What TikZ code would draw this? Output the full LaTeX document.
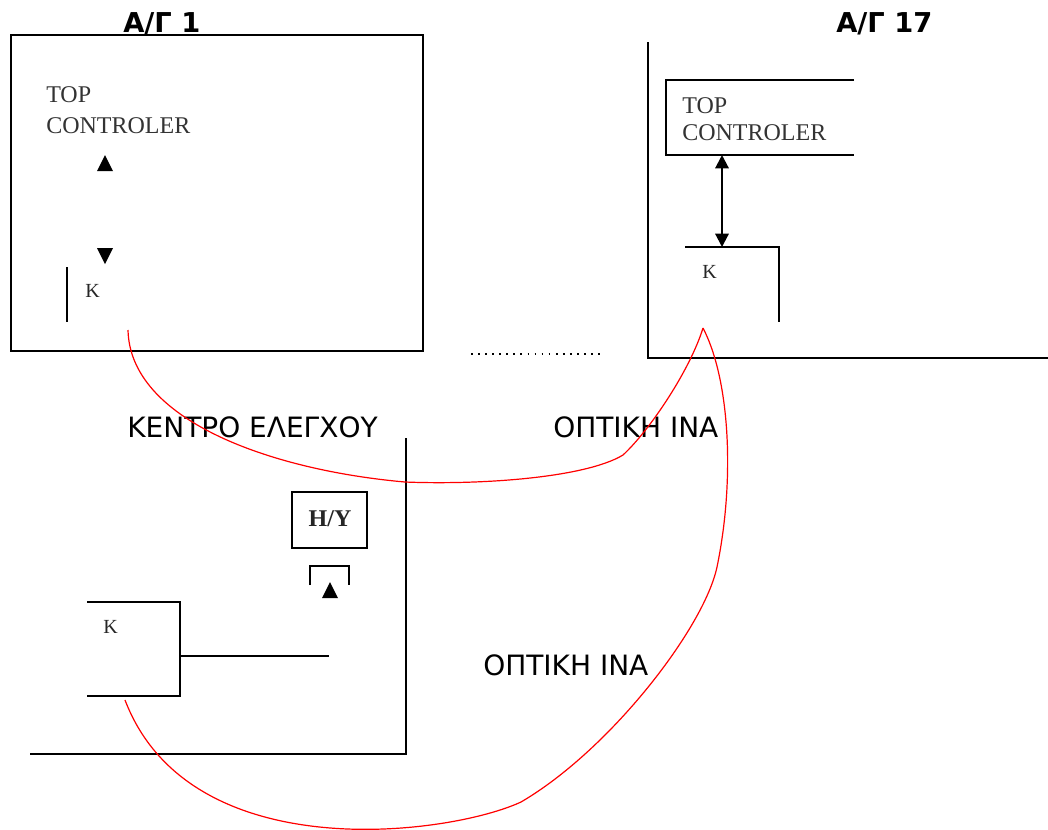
\documentclass[tikz,border=0pt]{standalone}
\usepackage{fontspec}
\setmainfont{Liberation Serif}
\newfontfamily\grfont{DejaVu Sans}
\usetikzlibrary{arrows.meta}
\tikzset{
  frameln/.style={line width=1.6pt},
  fiberln/.style={line width=0.9pt, red, line join=round},
  dotln/.style={line width=1.3pt, dash pattern=on 1.3pt off 4pt},
  linkln/.style={{Triangle[length=10pt,width=10pt]}-{Triangle[length=10pt,width=10pt]}, line width=1.6pt},
  titletxt/.style={font=\grfont\bfseries\fontsize{20.5}{24}\selectfont, anchor=base west, inner sep=0pt},
  grtxt/.style={font=\grfont\fontsize{21}{24}\selectfont, anchor=base west, inner sep=0pt},
  sertxt/.style={font=\fontsize{18}{20}\selectfont, text=black!80, anchor=base west, inner sep=0pt},
  ktxt/.style={font=\fontsize{15}{17}\selectfont, text=black!85, anchor=base west, inner sep=0pt},
}
\newcommand{\uptri}[1]{%
  \fill[black] #1 ++(-8,8) -- ++(16,0) -- ++(-8,-16) -- cycle;
}
\newcommand{\downtri}[1]{%
  \fill[black] #1 ++(-8,-8) -- ++(16,0) -- ++(-8,16) -- cycle;
}

\begin{document}
\begin{tikzpicture}[x=0.75pt,y=-0.75pt]
  \useasboundingbox (0,0) rectangle (1048,829);
  % A/G 1
  \node[titletxt] (ag1) at (123,32) {Α/Γ 1};
  \draw[frameln] (11,35) rectangle (423,351);
  \node[sertxt] (top1) at (46,102) {TOP};
  \node[sertxt] (ctl1) at (46,133) {CONTROLER};
  \uptri{(105,163)}
  \downtri{(105,256)}
  \draw[frameln] (67,267) -- (67,322);
  \node[ktxt] (k1) at (85,297) {K};
  \coordinate (k1out) at (128,330);
  % A/G 17
  \node[titletxt] (ag17) at (836,32) {Α/Γ 17};
  \draw[frameln] (648,42) -- (648,358) -- (1048,358);
  \draw[frameln] (854,80) -- (666,80) -- (666,155) -- (854,155);
  \node[sertxt] (top17) at (682,113) {TOP};
  \node[sertxt] (ctl17) at (682,140) {CONTROLER};
  \coordinate (ctl17s) at (722,155);
  \coordinate (k17n) at (722,247);
  \draw[frameln] (685,247) -- (779,247) -- (779,322);
  \node[ktxt] (k17) at (702,278) {K};
  \draw[linkln] (ctl17s) -- (k17n);
  \coordinate (k17out) at (703,328);
  % dots between the stations
  \coordinate (dotsa) at (471,354);
  \coordinate (dotsb) at (603,354);
  \draw[dotln] (dotsa) -- (dotsb);
  % control centre
  \node[grtxt] (kentro) at (127,437) {ΚΕΝΤΡΟ ΕΛΕΓΧΟΥ};
  \draw[frameln] (406,438) -- (406,754) -- (30,754);
  \draw[frameln] (292,492) rectangle (367,548);
  \node[font=\bfseries\fontsize{18}{20}\selectfont, text=black!85, anchor=base, inner sep=0pt] (hy) at (330,526) {H/Y};
  \draw[frameln] (310,585) -- (310,566) -- (349,566) -- (349,585);
  \uptri{(330,590)}
  \draw[frameln] (87,602) -- (180,602) -- (180,696) -- (87,696);
  \draw[frameln] (180,656) -- (329,656);
  \node[ktxt] (kc) at (103,633) {K};
  \coordinate (kcout) at (125,700);
  % optical fibre
  \node[grtxt] (opt1) at (553,437) {ΟΠΤΙΚΗ ΙΝΑ};
  \node[grtxt] (opt2) at (483,675) {ΟΠΤΙΚΗ ΙΝΑ};
  \draw[fiberln] (k1out) .. controls (130,420) and (270,470) .. (405,482)
    .. controls (480,485) and (585,478) .. (623,455)
    .. controls (650,430) and (690,370) .. (k17out);
  \draw[fiberln] (k17out) .. controls (730,380) and (735,480) .. (717,567)
    .. controls (704,628) and (610,750) .. (521,802)
    .. controls (450,835) and (190,870) .. (kcout);
\end{tikzpicture}
\end{document}
